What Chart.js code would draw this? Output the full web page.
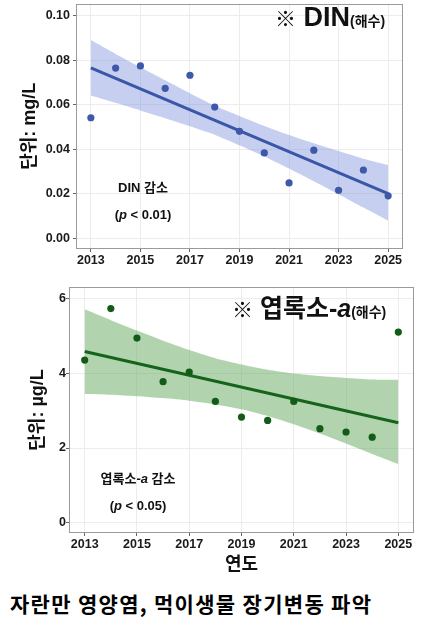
<!DOCTYPE html>
<html><head><meta charset="utf-8">
<script src="https://cdn.jsdelivr.net/npm/chart.js@4/dist/chart.umd.min.js"></script>
<style>
body{margin:0;background:#fff;width:440px;height:634px;overflow:hidden;position:relative;font-family:"Liberation Sans","Noto Sans CJK KR",sans-serif;}
.box{position:absolute;}
.t{position:absolute;white-space:nowrap;font-weight:bold;color:#111;}
.c{text-align:center;}
.k{font-size:21px;}
</style></head><body>
<div class="box" style="left:0;top:0;width:410px;height:270px"><canvas id="c1"></canvas></div>
<div class="box" style="left:0;top:275px;width:420px;height:305px"><canvas id="c2"></canvas></div>

<div class="t" style="left:275px;top:2px;font-size:27px;line-height:30px"><span class="k">※</span> DIN<span style="font-size:14px">(해수)</span></div>
<div class="t c" style="left:83px;width:120px;top:180px;font-size:13px;line-height:16px">DIN 감소</div>
<div class="t c" style="left:83px;width:120px;top:207px;font-size:13px;line-height:16px">(<i>p</i> &lt; 0.01)</div>

<div class="t" style="left:232px;top:294px;font-size:25px;line-height:28px"><span class="k">※</span> 엽록소-<i>a</i><span style="font-size:14px">(해수)</span></div>
<div class="t c" style="left:78px;width:120px;top:471px;font-size:13px;line-height:16px">엽록소-<i>a</i> 감소</div>
<div class="t c" style="left:78px;width:120px;top:498px;font-size:13px;line-height:16px">(<i>p</i> &lt; 0.05)</div>

<div class="t" style="left:10px;top:590px;font-size:21px;line-height:26px;letter-spacing:1.3px;font-family:'Noto Sans CJK KR',sans-serif;font-weight:700;color:#000">자란만 영양염, 먹이생물 장기변동 파악</div>

<script>
// ---- data ----
const years = [2013,2014,2015,2016,2017,2018,2019,2020,2021,2022,2023,2024,2025];
const xTickYears = [2013,2015,2017,2019,2021,2023,2025];
const trendYears = [2013,2025];

const dinValues = [0.0541,0.0764,0.0774,0.0673,0.0732,0.0589,0.0480,0.0383,0.0248,0.0395,0.0215,0.0306,0.0190];
const dinTrend  = [0.0765,0.0200];
const dinUpper  = [0.0890,0.0828,0.0768,0.0709,0.0651,0.0595,0.0549,0.0504,0.0463,0.0426,0.0391,0.0357,0.0328];
const dinLower  = [0.0641,0.0608,0.0574,0.0539,0.0503,0.0465,0.0417,0.0367,0.0313,0.0256,0.0197,0.0137,0.0078];
const dinYTicks = [0,0.02,0.04,0.06,0.08,0.10];

const chlValues = [4.36,5.74,4.95,3.78,4.04,3.25,2.83,2.74,3.25,2.52,2.43,2.29,5.11];
const chlTrend  = [4.59,2.68];
const chlUpper  = [5.72,5.43,5.15,4.88,4.63,4.41,4.24,4.10,4.00,3.93,3.88,3.84,3.83];
const chlLower  = [3.45,3.43,3.39,3.34,3.27,3.17,3.04,2.86,2.64,2.39,2.12,1.84,1.57];
const chlYTicks = [0,2,4,6];

// ---- helpers ----
const FONT = '"Liberation Sans","Noto Sans CJK KR",sans-serif';
const pts = (xs, ys) => xs.map((x,i)=>({x:x,y:ys[i]}));

const borderPlugin = {
  id:'panelBorder',
  afterDatasetsDraw(chart){
    const a = chart.chartArea, ctx = chart.ctx;
    ctx.save();
    ctx.strokeStyle = '#9a9a9a';
    ctx.lineWidth = 1;
    ctx.strokeRect(Math.round(a.left)+0.5, Math.round(a.top)+0.5, Math.round(a.right-a.left)-1, Math.round(a.bottom-a.top)-1);
    ctx.restore();
  }
};

function makeChart(id, cfg){
  const c = cfg;
  return new Chart(document.getElementById(id), {
    type:'scatter',
    data:{datasets:[
      {data:pts(years,c.values), backgroundColor:c.point, borderWidth:0, pointRadius:3.6, pointHoverRadius:3.6, showLine:false, order:0},
      {data:pts(trendYears,c.trend), borderColor:c.line, borderWidth:3, pointRadius:0, showLine:true, fill:false, order:1},
      {data:pts(years,c.upper), borderWidth:0, borderColor:'rgba(0,0,0,0)', backgroundColor:c.band, pointRadius:0, showLine:true, fill:'+1', tension:0.2, order:2},
      {data:pts(years,c.lower), borderWidth:0, borderColor:'rgba(0,0,0,0)', pointRadius:0, showLine:true, fill:false, tension:0.2, order:3}
    ]},
    options:{
      responsive:true, maintainAspectRatio:false, animation:false,
      events:[],
      layout:{padding:c.pad},
      plugins:{legend:{display:false}, tooltip:{enabled:false}},
      scales:{
        x:{
          type:'linear', min:2012.4, max:2025.6,
          afterBuildTicks(s){ s.ticks = xTickYears.map(v=>({value:v})); },
          afterFit(s){ s.height = c.xh; s.paddingLeft=0; s.paddingRight=0; },
          border:{display:false},
          grid:{color:'#ececec', lineWidth:1, drawTicks:true, tickLength:3, tickColor:'#666'},
          ticks:{padding:1, maxRotation:0, autoSkip:false, color:'#1a1a1a', font:{family:FONT, size:12.5, weight:'bold'}, callback:v=>String(v)},
          title:{display:!!c.xtitle, text:c.xtitle||'', color:'#111', font:{family:FONT, size:18, weight:'bold'}, padding:{top:0,bottom:4}}
        },
        y:{
          type:'linear', min:c.ymin, max:c.ymax,
          afterBuildTicks(s){ s.ticks = c.yticks.map(v=>({value:v})); },
          afterFit(s){ s.width = c.yw; s.paddingTop=0; s.paddingBottom=0; },
          border:{display:false},
          grid:{color:'#ececec', lineWidth:1, drawTicks:true, tickLength:3, tickColor:'#666'},
          ticks:{padding:c.ytpad, color:'#1a1a1a', font:{family:FONT, size:12.5, weight:'bold'}, callback:c.yfmt},
          title:{display:true, text:c.ytitle, color:'#111', font:{family:FONT, size:18, weight:'bold'}, padding:{top:c.ytitlePad,bottom:0}}
        }
      }
    },
    plugins:[borderPlugin]
  });
}

makeChart('c1', {
  values:dinValues, trend:dinTrend, upper:dinUpper, lower:dinLower,
  point:'rgb(62,88,170)', line:'rgb(58,86,168)', band:'rgba(120,140,220,0.42)',
  pad:{top:3,right:7,left:0,bottom:0}, xh:21, yw:76, ytpad:3, ytitlePad:19,
  ymin:-0.0049, ymax:0.1054, yticks:dinYTicks, yfmt:v=>v.toFixed(2),
  ytitle:'단위: mg/L', xtitle:null
});

makeChart('c2', {
  values:chlValues, trend:chlTrend, upper:chlUpper, lower:chlLower,
  point:'rgb(18,92,24)', line:'rgb(22,100,28)', band:'rgba(100,170,95,0.5)',
  pad:{top:12,right:6,left:0,bottom:0}, xh:47, yw:69, ytpad:0, ytitlePad:27,
  ymin:-0.28, ymax:6.32, yticks:chlYTicks, yfmt:v=>String(v),
  ytitle:'단위: µg/L', xtitle:'연도'
});
</script>
</body></html>
